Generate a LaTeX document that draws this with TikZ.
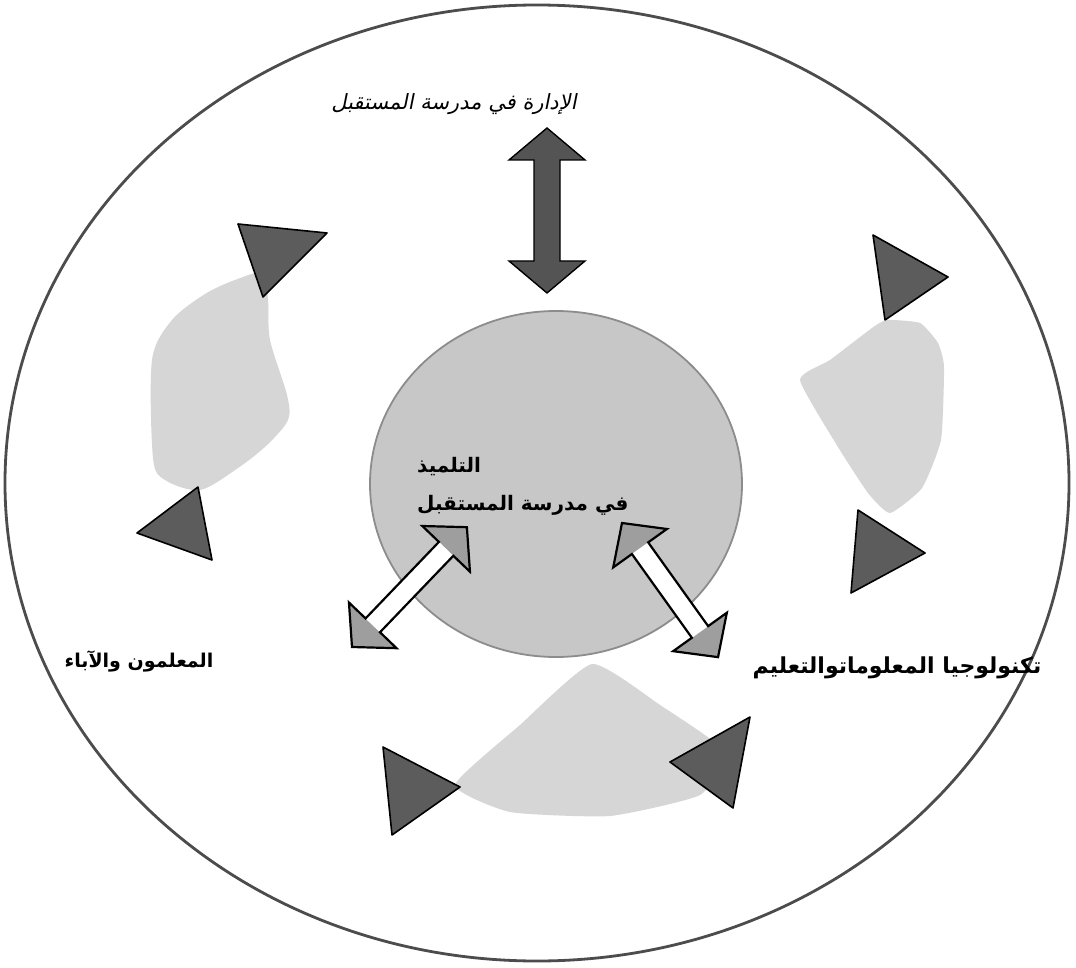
\documentclass[tikz,border=0pt]{standalone}
\usepackage{fontspec}
\TeXXeTstate=1
\newfontfamily\arabicbold[Script=Arabic]{DejaVu Sans Bold}
\newfontfamily\arabicslant[Script=Arabic,FakeSlant=0.2]{DejaVu Sans}
\definecolor{trigray}{gray}{0.36}
\definecolor{lightshape}{gray}{0.84}
\definecolor{innerfill}{gray}{0.78}
\definecolor{innerline}{gray}{0.55}
\definecolor{outerline}{gray}{0.3}
\definecolor{headgray}{gray}{0.62}
\definecolor{toparrow}{gray}{0.33}
\begin{document}
\begin{tikzpicture}[x=1pt,y=-1pt,
  tri/.style={fill=trigray,draw=black,line width=1.6pt,line join=round},
  lightblob/.style={fill=lightshape},
  arrowline/.style={draw=black,line width=2.2pt,line join=miter},
  lbl/.style={inner sep=0pt,text=black}]
\useasboundingbox[fill=white] (0,0) rectangle (1076,968);
% outer ellipse
\draw[outerline,line width=2.8pt] (537,483) ellipse [x radius=532, y radius=478];
% light shapes
\fill[lightblob] plot[smooth cycle,tension=0.5] coordinates {(263,273) (268,300) (270,340) (287,395) (288,420) (267,445) (238,468) (200,490) (165,480) (153,458) (152,360) (172,320) (205,294) (235,280)};
\fill[lightblob] plot[smooth cycle,tension=0.3] coordinates {(887,320) (920,323) (938,343) (944,367) (941,440) (922,488) (890,513) (868,493) (838,447) (800,380) (830,360) (872,328)};
\fill[lightblob] plot[smooth cycle,tension=0.3] coordinates {(592,664) (660,705) (725,752) (700,795) (610,816) (510,812) (455,785) (520,725)};
% inner circle
\draw[fill=innerfill,draw=innerline,line width=1.8pt] (556,484) ellipse [x radius=186, y radius=173];
% triangles
\draw[tri] (238,224) -- (327,233) -- (263,297) -- cycle;
\draw[tri] (137,533) -- (198,487) -- (212,560) -- cycle;
\draw[tri] (873,235) -- (948,277) -- (885,320) -- cycle;
\draw[tri] (858,510) -- (925,553) -- (851,593) -- cycle;
\draw[tri] (383,747) -- (460,787) -- (392,835) -- cycle;
\draw[tri] (750,717) -- (670,762) -- (733,808) -- cycle;
% top double arrow
\coordinate (topA) at (547,128);
\begin{scope}[shift={(topA)},rotate=-90]
  \draw[fill=toparrow,draw=black,line width=1.4pt,line join=miter]
    (0,0) -- (32,38) -- (32,13) -- (133,13) -- (133,38) -- (165,0) -- (133,-38) -- (133,-13) -- (32,-13) -- (32,-38) -- cycle;
\end{scope}
% left centre arrow
\coordinate (lA) at (352,647);
\begin{scope}[shift={(lA)},rotate=46.2]
  \fill[headgray] (0,0) -- (30,33) -- (30,-33) -- cycle;
  \fill[headgray] (166,0) -- (136,33) -- (136,-33) -- cycle;
  \fill[white] (30,-10) rectangle (136,10);
  \draw[arrowline] (0,0) -- (30,33) -- (30,10) -- (136,10) -- (136,33) -- (166,0) -- (136,-33) -- (136,-10) -- (30,-10) -- (30,-33) -- cycle;
\end{scope}
% right centre arrow
\coordinate (rA) at (622,523);
\begin{scope}[shift={(rA)},rotate=-54.4]
  \fill[headgray] (0,0) -- (31,33) -- (31,-33) -- cycle;
  \fill[headgray] (165,0) -- (134,33) -- (134,-33) -- cycle;
  \fill[white] (31,-10) rectangle (134,10);
  \draw[arrowline] (0,0) -- (31,33) -- (31,10) -- (134,10) -- (134,33) -- (165,0) -- (134,-33) -- (134,-10) -- (31,-10) -- (31,-33) -- cycle;
\end{scope}
% labels
\node[lbl] (mgmt) at (454,104) {\fontsize{21}{24}\arabicslant\beginR الإدارة في مدرسة المستقبل\endR};
\node[lbl,anchor=west] (pupil) at (417,467) {\fontsize{20}{24}\arabicbold\beginR التلميذ\endR};
\node[lbl,anchor=west] (pupil2) at (417,505) {\fontsize{20}{24}\arabicbold\beginR في مدرسة المستقبل\endR};
\node[lbl] (teach) at (139,661) {\fontsize{19}{22}\arabicbold\beginR المعلمون والآباء\endR};
\node[lbl] (tech) at (897,668) {\fontsize{22}{26}\arabicbold\beginR تكنولوجيا المعلوماتوالتعليم\endR};
\end{tikzpicture}
\end{document}
